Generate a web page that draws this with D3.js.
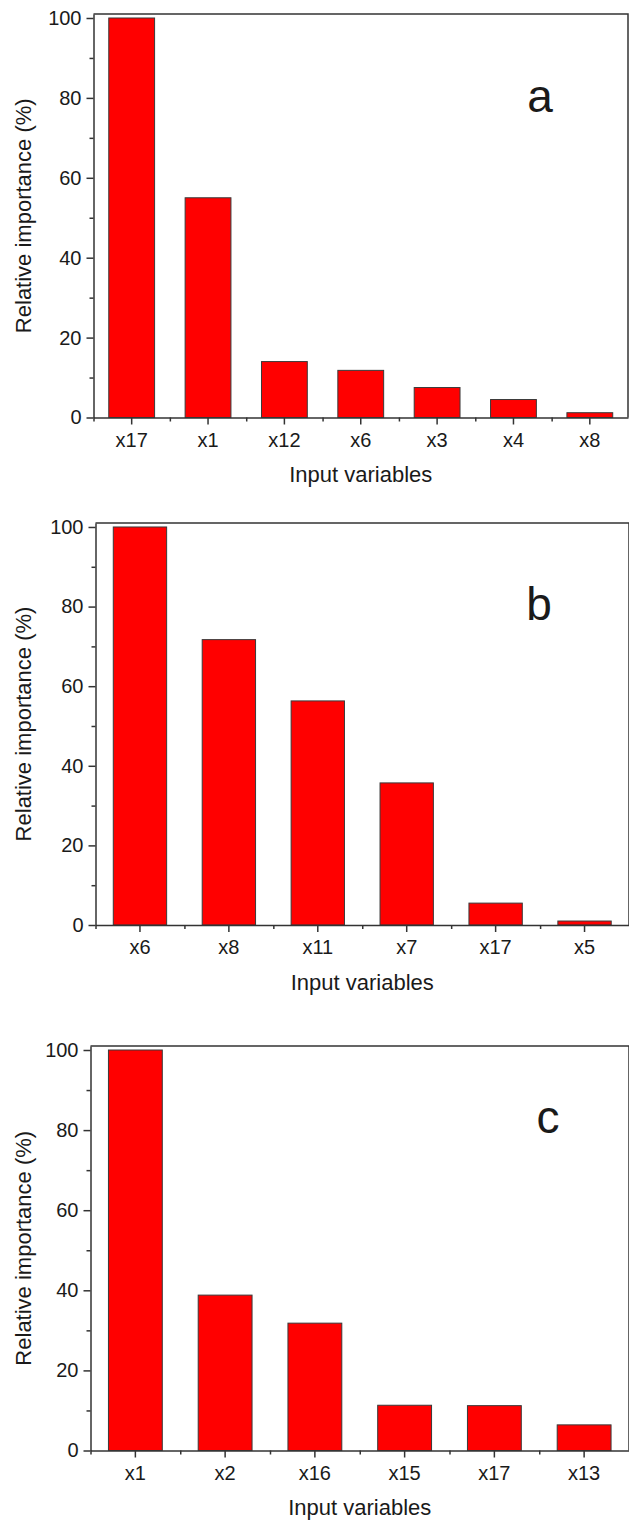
<!DOCTYPE html>
<html>
<head>
<meta charset="utf-8">
<script src="https://cdn.jsdelivr.net/npm/d3@7"></script>
<style>
  body { margin: 0; background: #fff; }
  text { font-family: "Liberation Sans", Arial, sans-serif; fill: #1a1a1a; }
</style>
</head>
<body>
<svg id="chart" width="629" height="1523"></svg>
<script>
// panel a
const varsA = ["x17", "x1", "x12", "x6", "x3", "x4", "x8"];
const impA = [100, 55, 14, 11.8, 7.5, 4.5, 1.2];
// panel b
const varsB = ["x6", "x8", "x11", "x7", "x17", "x5"];
const impB = [100, 71.7, 56.3, 35.7, 5.5, 1];
// panel c
const varsC = ["x1", "x2", "x16", "x15", "x17", "x13"];
const impC = [100, 38.8, 31.8, 11.3, 11.2, 6.4];

const yMajor = [0, 20, 40, 60, 80, 100];
const yMinor = [10, 30, 50, 70, 90];
const xTitle = "Input variables";
const yTitle = "Relative importance (%)";

// layout of the three stacked panels
const panels = [
  { tag: "a", cats: varsA, vals: impA, left: 93.5, right: 628, top: 14, bottom: 417.5, tagX: 540, tagY: 112 },
  { tag: "b", cats: varsB, vals: impB, left: 95.5, right: 629, top: 523, bottom: 925, tagX: 539, tagY: 620 },
  { tag: "c", cats: varsC, vals: impC, left: 90.5, right: 629, top: 1046, bottom: 1450.5, tagX: 548, tagY: 1133 }
];

const svg = d3.select("#chart");
const axisColor = "#333";

panels.forEach(function (p) {
  var g = svg.append("g");

  // scales
  var x = d3.scaleBand().domain(p.cats).range([p.left, p.right])
    .paddingInner(0.4).paddingOuter(0.2);
  var xi = d3.scaleLinear().domain([0, p.cats.length]).range([p.left, p.right]);
  var y = d3.scaleLinear().domain([0, 101]).range([p.bottom, p.top]);

  // bars
  g.selectAll("rect.bar")
    .data(p.cats.map(function (c, i) { return { c: c, v: p.vals[i] }; }))
    .enter().append("rect")
    .attr("class", "bar")
    .attr("x", function (d) { return x(d.c); })
    .attr("width", x.bandwidth())
    .attr("y", function (d) { return y(d.v); })
    .attr("height", function (d) { return y(0) - y(d.v); })
    .attr("fill", "#ff0000")
    .attr("stroke", "#3a3a3a")
    .attr("stroke-width", 1);

  // frame top + right
  g.append("path")
    .attr("d", "M" + p.left + "," + p.top + "H" + p.right + "V" + p.bottom)
    .attr("fill", "none").attr("stroke", axisColor).attr("stroke-width", 1.5);

  // y axis
  var yAx = g.append("g").attr("transform", "translate(" + p.left + ",0)")
    .call(d3.axisLeft(y).tickValues(yMajor).tickSize(7).tickSizeOuter(0).tickPadding(5));
  g.append("g").attr("transform", "translate(" + p.left + ",0)")
    .call(d3.axisLeft(y).tickValues(yMinor).tickSize(4).tickSizeOuter(0).tickFormat(""))
    .select(".domain").remove();

  // x axis
  var xAx = g.append("g").attr("transform", "translate(0," + p.bottom + ")")
    .call(d3.axisBottom(x).tickSize(7).tickSizeOuter(0).tickPadding(8));
  g.append("g").attr("transform", "translate(0," + p.bottom + ")")
    .call(d3.axisBottom(xi).tickValues(d3.range(0, p.cats.length)).tickSize(4).tickSizeOuter(0).tickFormat(""))
    .select(".domain").remove();

  g.selectAll(".domain").attr("stroke", axisColor).attr("stroke-width", 1.5);
  g.selectAll(".tick line").attr("stroke", axisColor).attr("stroke-width", 1.5);
  g.selectAll(".tick text").attr("font-size", 20).attr("fill", "#1a1a1a")
    .style("font-family", "'Liberation Sans', Arial, sans-serif");

  // titles
  g.append("text")
    .attr("x", (p.left + p.right) / 2)
    .attr("y", p.bottom + 64.5)
    .attr("text-anchor", "middle")
    .attr("font-size", 22)
    .text(xTitle);

  g.append("text")
    .attr("transform", "translate(31," + (p.top + p.bottom) / 2 + ") rotate(-90)")
    .attr("text-anchor", "middle")
    .attr("font-size", 22)
    .text(yTitle);

  // panel letter
  g.append("text")
    .attr("x", p.tagX)
    .attr("y", p.tagY)
    .attr("text-anchor", "middle")
    .attr("font-size", 46)
    .text(p.tag);
});
</script>
</body>
</html>
